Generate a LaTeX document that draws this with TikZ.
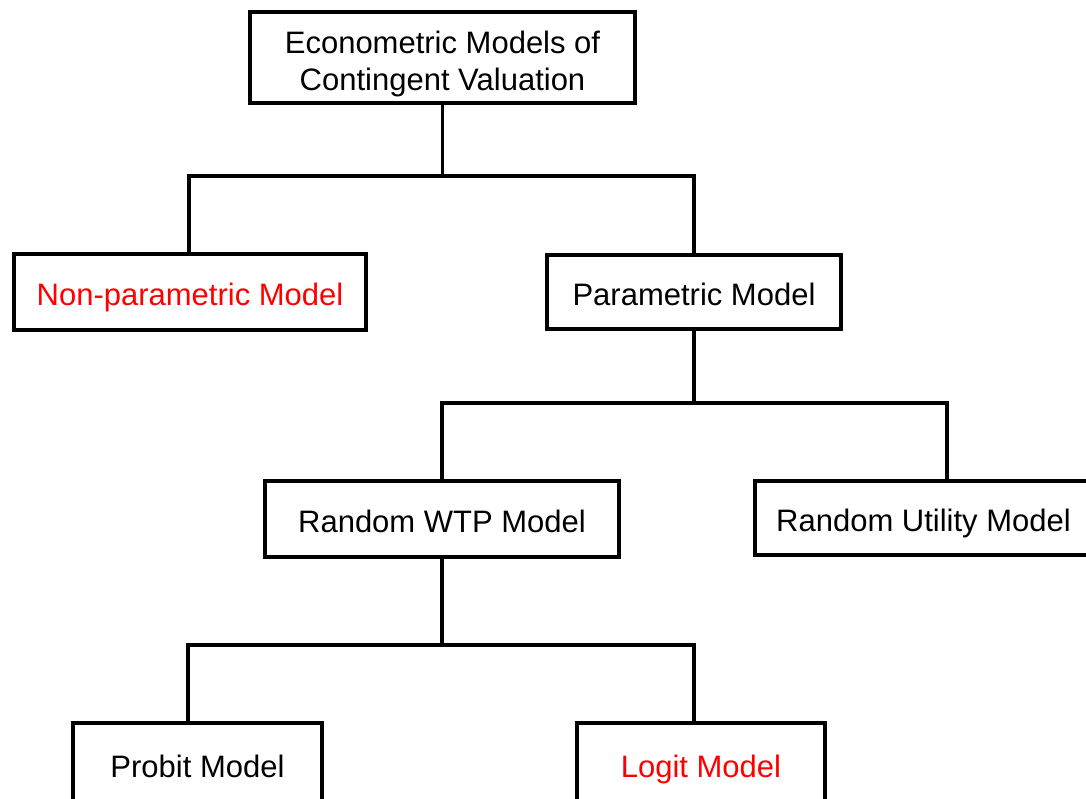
\documentclass[tikz,border=0pt]{standalone}
\usepackage{fontspec}
\setmainfont{Liberation Sans}
\definecolor{hl}{RGB}{255,0,0}
\begin{document}
\begin{tikzpicture}[x=1pt,y=-1pt,
  model/.style={draw=black,line width=3.5pt,inner sep=0pt,
    font=\fontsize{31}{37}\selectfont,text height=26pt,text depth=0pt},
  title/.style={draw=black,line width=3.5pt,inner sep=0pt,align=center,
    font=\fontsize{31}{37}\selectfont},
  conn/.style={line width=3.5pt,line join=miter}]
\useasboundingbox (0,0) rectangle (1086,798);
\clip (0,0) rectangle (1086,798);

% boxes
\node[title,minimum width=385pt,minimum height=91pt] (top) at (442.5,57.5)
  {\rule{0pt}{34.5pt}Econometric Models of\\Contingent Valuation};
\node[model,minimum width=352pt,minimum height=76pt,text=hl] (np) at (190,292)
  {Non-parametric Model};
\node[model,minimum width=294pt,minimum height=74pt] (par) at (694,292)
  {Parametric Model};
\node[model,minimum width=354pt,minimum height=76pt] (wtp) at (442,519)
  {Random WTP Model};
\node[model,minimum width=337pt,minimum height=74pt] (ru) at (923.5,518)
  {Random Utility Model};
\node[model,minimum width=249pt,minimum height=82pt] (pro) at (197.5,764)
  {Probit Model};
\node[model,minimum width=248pt,minimum height=82pt,text=hl] (log) at (701,764)
  {Logit Model};

% bus lines
\coordinate (b1l) at (189,176);
\coordinate (b1r) at (694,176);
\coordinate (b2l) at (442,403);
\coordinate (b2r) at (947,403);
\coordinate (b3l) at (188,645);
\coordinate (b3r) at (694,645);

% connectors
\draw[conn] (top.south) -- (top.south |- b1l);
\draw[conn] (b1l |- np.north) -- (b1l) -- (b1r) -- (b1r |- par.north);
\draw[conn] (par.south) -- (par.south |- b2l);
\draw[conn] (b2l |- wtp.north) -- (b2l) -- (b2r) -- (b2r |- ru.north);
\draw[conn] (wtp.south) -- (wtp.south |- b3l);
\draw[conn] (b3l |- pro.north) -- (b3l) -- (b3r) -- (b3r |- log.north);
\end{tikzpicture}
\end{document}
